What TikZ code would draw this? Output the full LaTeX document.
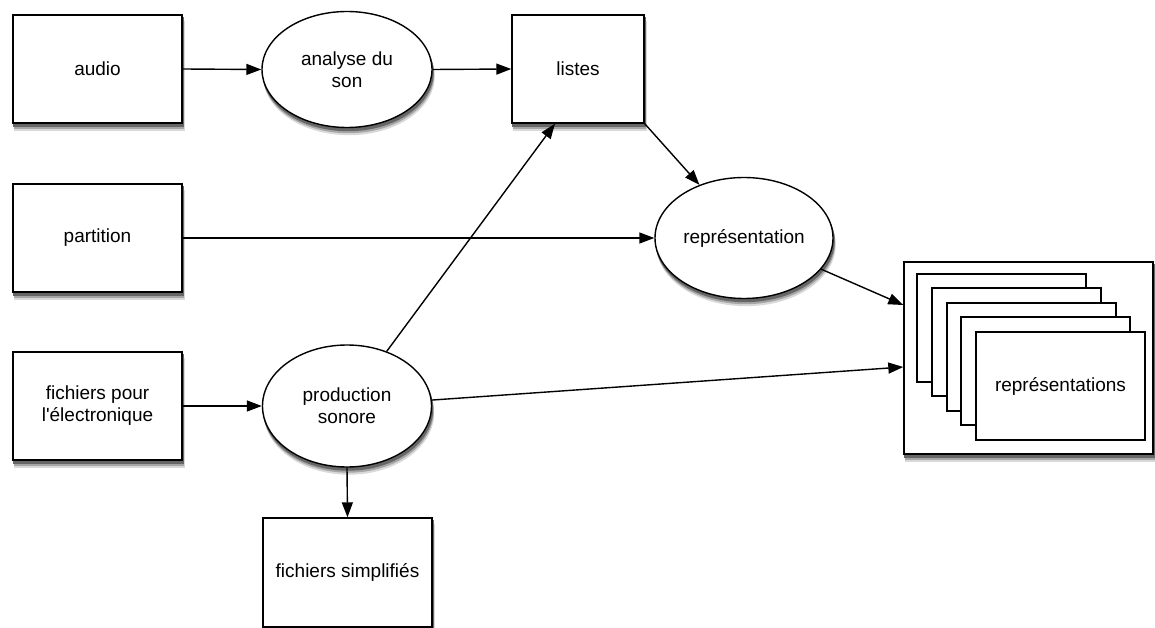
\documentclass[tikz,border=0pt]{standalone}
\usepackage{fontspec}
\newfontfamily\libsans{Liberation Sans}
\usetikzlibrary{shapes.geometric,arrows.meta,backgrounds}
\begin{document}
\begin{tikzpicture}[x=1pt,y=-1pt,
  font=\libsans\fontsize{19}{22}\selectfont,
  box/.style={draw, line width=1.4pt, fill=white, rectangle, minimum width=169pt,
    minimum height=108pt, inner sep=0pt, align=center},
  ell/.style={draw, ellipse, line width=1.4pt, fill=white, minimum width=170pt,
    minimum height=120pt, inner sep=0pt, align=center},
  card/.style={draw, line width=1.4pt, fill=white, rectangle, minimum width=169pt,
    minimum height=108pt, inner sep=0pt, align=center},
  arr/.style={-{Triangle[length=15pt,width=11pt]}, line width=1.4pt}]
\useasboundingbox (0,0) rectangle (1155,628);

\node[box] (audio) at (97.5,69) {audio};
\node[ell, minimum height=116pt] (analyse) at (347,69.5) {analyse du\\son};
\node[box, minimum width=132pt] (listes) at (578,69) {listes};
\node[box] (partition) at (97.5,238) {partition};
\node[ell, minimum width=178pt, minimum height=121pt] (rep) at (744,238) {représentation};
\node[box] (fich) at (97.5,406) {fichiers pour\\l'électronique};
\node[ell, minimum width=169pt, minimum height=122pt] (prod) at (347,406) {production\\sonore};
\node[box, minimum height=109pt] (simp) at (347.5,572.5) {fichiers simplifiés};

\node[box, minimum width=249pt, minimum height=192pt] (big) at (1028.5,358) {};
\node[card] (card1) at (1001.5,328) {};
\node[card] (card2) at (1016.5,342) {};
\node[card] (card3) at (1031.5,357) {};
\node[card] (card4) at (1045.5,371) {};
\node[card] (card5) at (1060.5,386) {représentations};

\begin{pgfonlayer}{background}
  \foreach \n in {audio,listes,partition,fich,simp,big}{
    \foreach \dx/\dy/\shg in {2/7/15,1.5/5/35,1/3/60}{
      \fill[black!\shg] ([xshift=\dx pt,yshift=-\dy pt]\n.south west)
        rectangle ([xshift=\dx pt,yshift=-\dy pt]\n.north east);
    }
  }
  \foreach \n/\rx/\ry in {analyse/85.7/58.7,rep/89.7/61.2,prod/85.2/61.7}{
    \foreach \dx/\dy/\shg in {2/7/15,1.5/5/35,1/3/60}{
      \fill[black!\shg] ([xshift=\dx pt,yshift=-\dy pt]\n.center)
        ellipse [x radius=\rx pt, y radius=\ry pt];
    }
  }
\end{pgfonlayer}

\draw[arr] (audio.east) -- (analyse.west);
\draw[arr] (analyse.east) -- (listes.west);
\draw[arr] (prod.54) -- ([xshift=-23pt]listes.south);
\draw[arr] (listes.south east) -- (rep.130);
\draw[arr] (partition.east) -- (rep.west);
\draw[arr] (rep.-22) -- ([yshift=53pt]big.west);
\draw[arr] (fich.east) -- (prod.west);
\draw[arr] (prod.4) -- ([yshift=-9pt]big.west);
\draw[arr] (prod.south) -- (simp.north);
\end{tikzpicture}
\end{document}
